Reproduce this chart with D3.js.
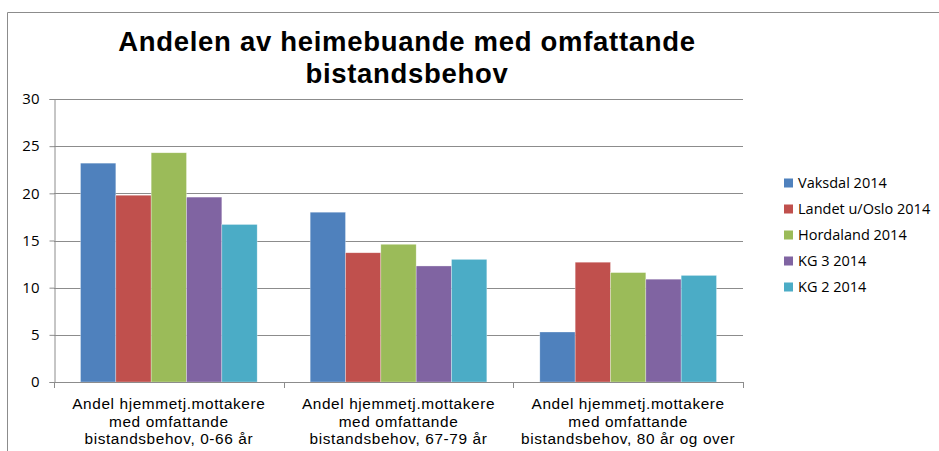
<!DOCTYPE html>
<html>
<head>
<meta charset="utf-8">
<script src="https://cdn.jsdelivr.net/npm/d3@7"></script>
<style>
  body { margin: 0; background: #fff; }
  svg { font-family: "Open Sans", "Liberation Sans", sans-serif; }
</style>
</head>
<body>
<div id="chart"></div>
<script>
// data
const categories = [
    ["Andel hjemmetj.mottakere", "med omfattande", "bistandsbehov, 0-66 år"],
    ["Andel hjemmetj.mottakere", "med omfattande", "bistandsbehov, 67-79 år"],
    ["Andel hjemmetj.mottakere", "med omfattande", "bistandsbehov, 80 år og over"]
];
const seriesNames = ["Vaksdal 2014", "Landet u/Oslo 2014", "Hordaland 2014", "KG 3 2014", "KG 2 2014"];
const vaksdal = [23.2, 18.0, 5.3];
const landet = [19.8, 13.7, 12.7];
const hordaland = [24.3, 14.6, 11.6];
const kg3 = [19.6, 12.3, 10.9];
const kg2 = [16.7, 13.0, 11.3];
const yTicks = [0, 5, 10, 15, 20, 25, 30];
const colors = ["#4F81BD", "#C0504D", "#9BBB59", "#8064A2", "#4BACC6"];

const seriesValues = [vaksdal, landet, hordaland, kg3, kg2];

const W = 939, H = 451;
const plot = {l: 54, r: 743, t: 99, b: 382};

const svg = d3.select("#chart").append("svg")
    .attr("width", W)
    .attr("height", H);

// outer chart border (runs off to the right and bottom)
svg.append("path")
    .attr("d", `M7.5,${H}V12.5H${W}`)
    .attr("fill", "none")
    .attr("stroke", "#8c8c8c")
    .attr("stroke-width", 1);

// title
const title = svg.append("text")
    .attr("text-anchor", "middle")
    .attr("font-family", "Liberation Sans, Arial, sans-serif")
    .attr("font-weight", "bold")
    .attr("font-size", 27.5)
    .attr("letter-spacing", 0.7)
    .attr("fill", "#000");
title.append("tspan").attr("x", 407).attr("y", 51).text("Andelen av heimebuande med omfattande");
title.append("tspan").attr("x", 407).attr("y", 83).text("bistandsbehov");

const y = d3.scaleLinear().domain([0, 30]).range([plot.b, plot.t]);
const x0 = d3.scaleBand()
    .domain(d3.range(categories.length))
    .range([plot.l, plot.r]);
// Excel style gap width 150%
const x1 = d3.scaleBand()
    .domain(d3.range(seriesNames.length))
    .range([0, x0.bandwidth()])
    .paddingOuter(0.75)
    .paddingInner(0);

// gridlines
svg.append("g")
    .selectAll("line")
    .data(yTicks.filter((d) => d > 0))
    .join("line")
    .attr("x1", plot.l)
    .attr("x2", plot.r)
    .attr("y1", (d) => Math.round(y(d)) + 0.5)
    .attr("y2", (d) => Math.round(y(d)) + 0.5)
    .attr("stroke", "#8c8c8c")
    .attr("stroke-width", 1);

// bars
const groups = svg.append("g")
    .selectAll("g")
    .data(categories.map((c, i) => i))
    .join("g")
    .attr("transform", (i) => `translate(${x0(i)},0)`);

groups.selectAll("rect")
    .data((i) => seriesValues.map((vals, s) => ({s, v: vals[i]})))
    .join("rect")
    .attr("x", (d) => x1(d.s))
    .attr("width", x1.bandwidth())
    .attr("y", (d) => y(d.v))
    .attr("height", (d) => y(0) - y(d.v))
    .attr("fill", (d) => colors[d.s])
    .attr("stroke", "#fff")
    .attr("stroke-opacity", 0.5)
    .attr("stroke-width", 0.6);

// y axis
const yAxis = svg.append("g")
    .attr("transform", `translate(${plot.l + 0.5},0)`)
    .call(d3.axisLeft(y).tickValues(yTicks).tickSize(5).tickPadding(10));
yAxis.select(".domain").attr("stroke", "#8c8c8c");
yAxis.selectAll(".tick line").attr("stroke", "#8c8c8c");
yAxis.selectAll(".tick text")
    .attr("font-size", 15)
    .attr("font-family", "Open Sans, sans-serif")
    .attr("fill", "#000");

// x axis
const xAxisG = svg.append("g");
xAxisG.append("line")
    .attr("x1", plot.l).attr("x2", plot.r)
    .attr("y1", plot.b + 0.5).attr("y2", plot.b + 0.5)
    .attr("stroke", "#8c8c8c");
xAxisG.selectAll(".xt")
    .data(d3.range(categories.length + 1))
    .join("line")
    .attr("class", "xt")
    .attr("x1", (i) => Math.round(i < categories.length ? x0(i) : plot.r) + 0.5)
    .attr("x2", (i) => Math.round(i < categories.length ? x0(i) : plot.r) + 0.5)
    .attr("y1", plot.b)
    .attr("y2", plot.b + 6)
    .attr("stroke", "#8c8c8c");

// category labels: tighter font so the three lines sit 17.5px apart without clashing
const catLabels = xAxisG.selectAll(".cat")
    .data(categories)
    .join("text")
    .attr("class", "cat")
    .attr("text-anchor", "middle")
    .attr("font-family", "Liberation Sans, Arial, sans-serif")
    .attr("font-size", 15.4)
    .attr("letter-spacing", 0.6)
    .attr("fill", "#000");
catLabels.selectAll("tspan")
    .data((d, i) => d.map((line) => ({line, i})))
    .join("tspan")
    .attr("x", (d) => x0(d.i) + x0.bandwidth() / 2)
    .attr("y", (d, j) => 409 + j * 17.5)
    .text((d) => d.line);

// legend
const legend = svg.append("g")
    .attr("transform", "translate(784,183)");
const items = legend.selectAll("g")
    .data(seriesNames)
    .join("g")
    .attr("transform", (d, i) => `translate(0,${i * 26})`);
items.append("rect")
    .attr("x", 0)
    .attr("y", -4.5)
    .attr("width", 9)
    .attr("height", 9)
    .attr("fill", (d, i) => colors[i]);
items.append("text")
    .attr("x", 14)
    .attr("y", 5)
    .attr("font-size", 14.5)
    .attr("fill", "#000")
    .text((d) => d);
</script>
</body>
</html>
